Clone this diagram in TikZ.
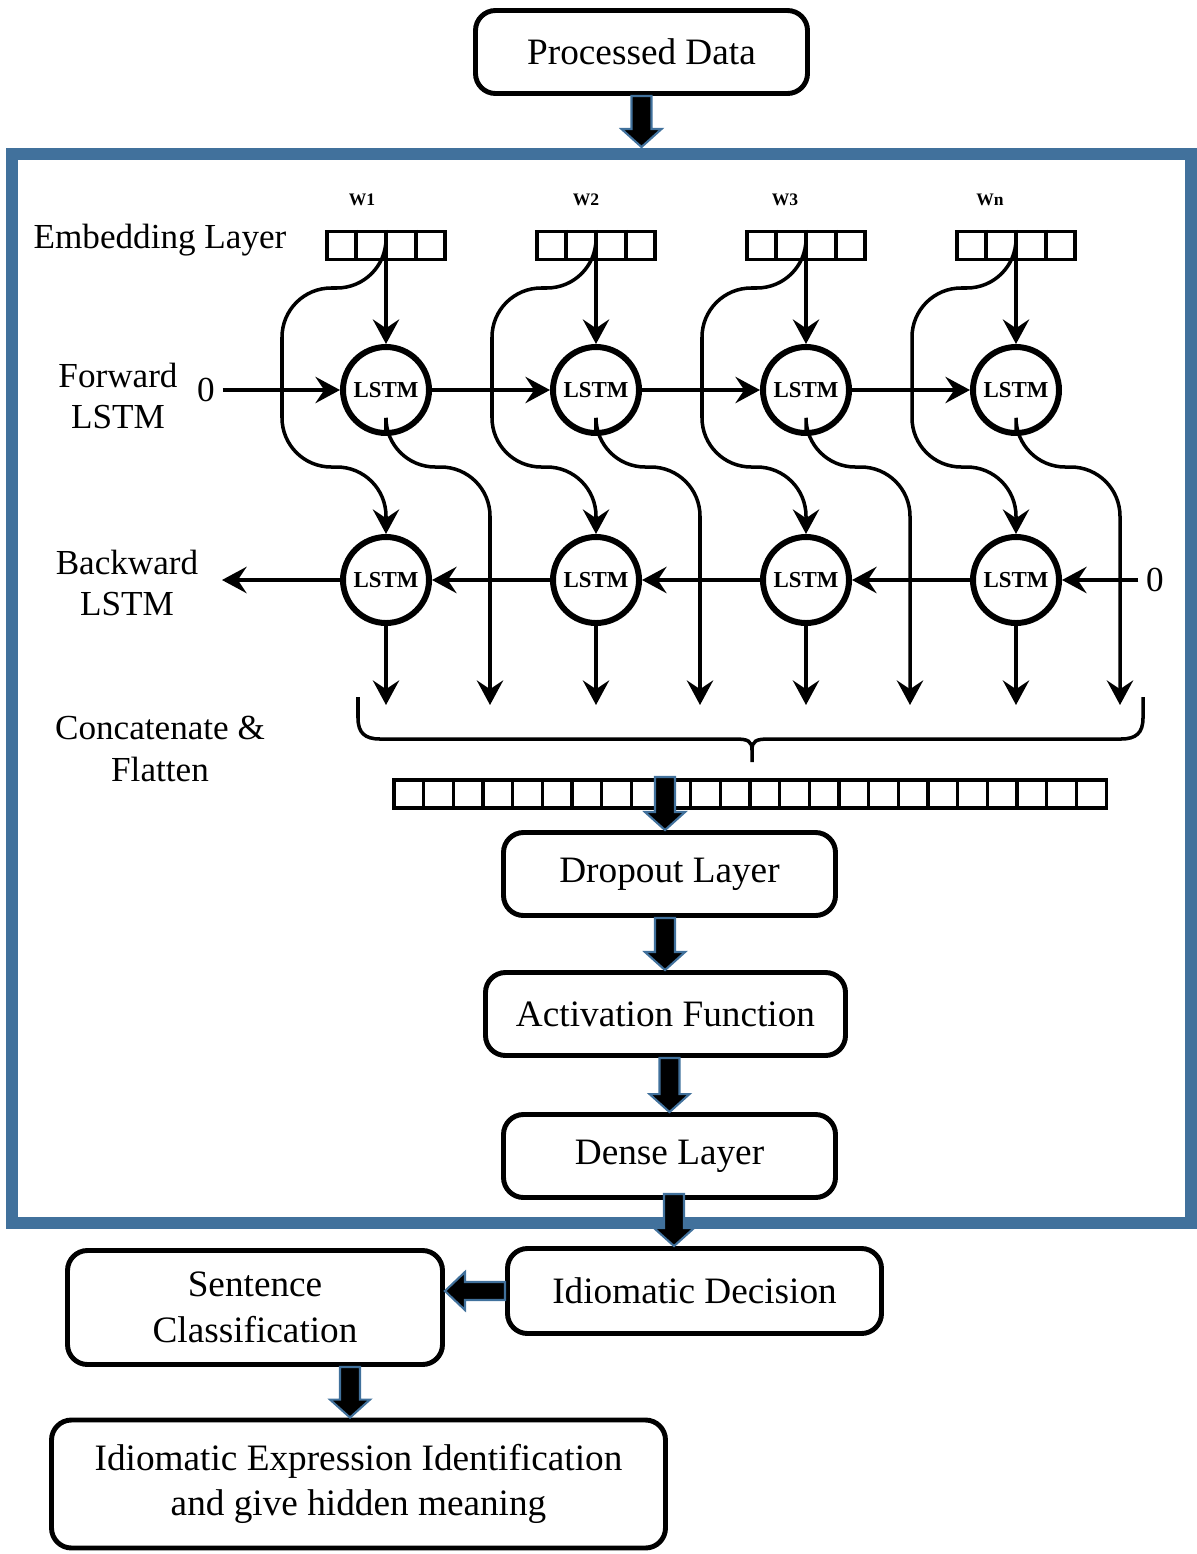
\documentclass[tikz,border=0pt]{standalone}
\usepackage{fontspec}
\setmainfont{Liberation Serif}
\usetikzlibrary{calc}
\usetikzlibrary{arrows.meta}
\definecolor{frameblue}{RGB}{65,113,156}
\newcommand\boxfont{\fontsize{10.6}{12.9}\selectfont}
\newcommand\lblfont{\fontsize{10}{11.8}\selectfont}
\newcommand\blockdown[2]{\draw[blockarrow] ($(#1)+(-10,0)$) -- ($(#2)+(-10,-18)$) -- ($(#2)+(-20,-18)$) -- (#2) -- ($(#2)+(20,-18)$) -- ($(#2)+(10,-18)$) -- ($(#1)+(10,0)$) -- cycle;}
\newcommand\blockleft[2]{\draw[blockarrow] ($(#1)+(0,-9)$) -- ($(#2)+(20,-9)$) -- ($(#2)+(20,-19)$) -- (#2) -- ($(#2)+(20,19)$) -- ($(#2)+(20,9)$) -- ($(#1)+(0,9)$) -- cycle;}
\tikzset{
  box/.style={draw, line width=1.4pt, rounded corners=2mm, align=center, font=\boxfont},
  frame/.style={draw=frameblue, line width=1.2mm},
  blockarrow/.style={fill=black, draw=frameblue, line width=0.6pt},
  lbl/.style={font=\lblfont, inner sep=1pt},
  wlbl/.style={font=\fontsize{5}{6}\selectfont\bfseries},
  emb/.style={draw, line width=0.9pt, minimum width=11.8mm, minimum height=2.8mm, inner sep=0pt},
  cell/.style={line width=0.9pt},
  lstm/.style={circle, draw, line width=1.7pt, minimum size=8.6mm, inner sep=0pt, font=\fontsize{6.5}{7}\selectfont\bfseries},
  flow/.style={line width=1pt, -{Stealth[length=7pt, width=7.5pt, inset=2.5pt]}},
}
\begin{document}
\begin{tikzpicture}[x=0.1mm, y=-0.1mm]
\useasboundingbox (0,0) rectangle (1197,1554);

% model frame
\draw[frame] (11.5,153.5) rectangle (1191,1223);
\coordinate (ftop) at (641.5,147);

% boxes
\node[box, minimum width=33.2mm, minimum height=8.3mm] (pd) at (641.5,52) {Processed Data};
\node[box, minimum width=33.2mm, minimum height=8.3mm] (dropout) at (669.5,874) {Dropout Layer};
\node[box, minimum width=36mm, minimum height=8.3mm] (act) at (665.5,1014) {Activation Function};
\node[box, minimum width=33.2mm, minimum height=8.3mm] (dense) at (669.5,1156) {Dense Layer};
\node[box, minimum width=37.4mm, minimum height=8.5mm] (dec) at (694.5,1291) {Idiomatic Decision};
\node[box, minimum width=37.5mm, minimum height=11.4mm] (sc) at (255,1307.5) {Sentence\\Classification};
\node[box, minimum width=61.4mm, minimum height=12.8mm] (iei) at (358.5,1484) {Idiomatic Expression Identification\\and give hidden meaning};

% layer names
\node[lbl] (embl) at (160,240) {Embedding Layer};
\node[lbl, align=center] (fwl) at (118,396) {Forward\\LSTM};
\node[lbl, align=center] (bwl) at (127,583) {Backward\\LSTM};
\node[lbl, align=center] (catl) at (160,749) {Concatenate \&\\Flatten};

% one column per word
\foreach \i/\wx/\w in {0/362/W1,1/586/W2,2/785/W3,3/990/Wn}{
  \pgfmathsetmacro\cx{386+210*\i}
  \node[wlbl] (w\i) at (\wx,200) {\w};
  \node[emb] (e\i) at (\cx,245.5) {};
  \foreach \d in {-30,0,30}
    \draw[cell] ($(e\i.north)+(\d,0)$) -- ($(e\i.south)+(\d,0)$);
  \node[lstm] (f\i) at (\cx,390) {LSTM};
  \node[lstm] (b\i) at (\cx,580) {LSTM};
  \draw[flow] (e\i.south) -- (f\i);
  \draw[flow, rounded corners=14] (e\i.south) -- (\cx,288) -- (\cx-104,288) -- (\cx-104,467) -- (\cx,467) -- (b\i);
  \draw[flow, rounded corners=14] (f\i) -- (\cx,467) -- (\cx+104,467) -- (\cx+104,705);
  \draw[flow] (b\i) -- (\cx,705);
}

% forward and backward chains
\node[lbl, inner sep=2pt] (fzero) at (206,390) {0};
\node[lbl, inner sep=2pt] (bzero) at (1155,580) {0};
\coordinate (bout) at (222,580);
\draw[flow] (fzero) -- (f0);
\foreach \i [count=\j] in {0,1,2}{
  \draw[flow] (f\i) -- (f\j);
  \draw[flow] (b\j) -- (b\i);
}
\draw[flow] (bzero) -- (b3);
\draw[flow] (b0) -- (bout);

% brace
\draw[line width=1pt] (358,697) -- (358,718) .. controls (358,733) and (365,739) .. (380,739) -- (735,739) .. controls (748,739) and (752,741) .. (752,750) -- (752,762);
\draw[line width=1pt] (1143,697) -- (1143,718) .. controls (1143,733) and (1136,739) .. (1121,739) -- (769,739) .. controls (756,739) and (752,741) .. (752,750);

% flattened vector
\foreach \k in {0,...,23}
  \draw[cell] (394+29.67*\k,780) rectangle ++(29.67,28);

% block arrows
\coordinate (a2s) at (665,777);
\path (a2s |- dropout.north) coordinate (a2e);
\path (dropout.south) ++(-4.5,0) coordinate (a3s);
\path (a3s |- act.north) coordinate (a3e);
\path (act.south) ++(4,0) coordinate (a4s);
\path (a4s |- dense.north) coordinate (a4e);
\path (dense.south) ++(4.5,-6) coordinate (a5s);
\path (a5s |- dec.north) coordinate (a5e);
\path (dec.west) coordinate (a6s);
\path (a6s -| sc.east) coordinate (a6e);
\path (sc.south) ++(95,0) coordinate (a7s);
\path (a7s |- iei.north) coordinate (a7e);
\blockdown{pd.south}{ftop}
\blockdown{a2s}{a2e}
\blockdown{a3s}{a3e}
\blockdown{a4s}{a4e}
\blockdown{a5s}{a5e}
\blockleft{a6s}{a6e}
\blockdown{a7s}{a7e}
\end{tikzpicture}
\end{document}
